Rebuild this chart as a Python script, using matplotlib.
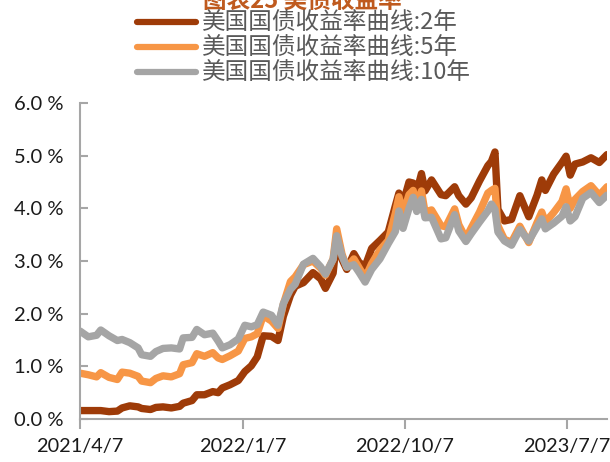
import matplotlib
matplotlib.use("Agg")
import matplotlib.pyplot as plt
import numpy as np

plt.rcParams['font.family'] = ['Lato', 'Noto Sans CJK SC', 'DejaVu Sans']

# dates of the sampled points
dates = ["2021-04-07", "2021-04-21", "2021-05-05", "2021-05-12", "2021-05-26",
         "2021-06-09", "2021-06-17", "2021-06-30", "2021-07-14", "2021-07-20",
         "2021-08-04", "2021-08-13", "2021-08-25", "2021-09-08", "2021-09-22",
         "2021-09-28", "2021-10-13", "2021-10-21", "2021-11-03", "2021-11-17",
         "2021-11-26", "2021-12-03", "2021-12-16", "2021-12-30", "2022-01-10",
         "2022-01-21", "2022-01-31", "2022-02-10", "2022-02-24", "2022-03-07",
         "2022-03-16", "2022-03-28", "2022-04-05", "2022-04-19", "2022-05-05",
         "2022-05-18", "2022-05-26", "2022-06-08", "2022-06-14", "2022-06-23",
         "2022-07-01", "2022-07-13", "2022-07-22", "2022-08-01", "2022-08-12",
         "2022-08-26", "2022-09-09", "2022-09-21", "2022-09-27", "2022-10-04",
         "2022-10-14", "2022-10-21", "2022-10-27", "2022-11-04", "2022-11-10",
         "2022-11-21", "2022-12-07", "2022-12-15", "2022-12-30", "2023-01-06",
         "2023-01-18", "2023-01-27", "2023-02-10", "2023-02-24", "2023-03-02",
         "2023-03-08", "2023-03-13", "2023-03-24", "2023-04-05", "2023-04-19",
         "2023-05-04", "2023-05-18", "2023-05-26", "2023-06-01", "2023-06-15",
         "2023-06-29", "2023-07-06", "2023-07-13", "2023-07-21", "2023-08-03",
         "2023-08-17", "2023-08-31", "2023-09-13"]

y2 = [0.16, 0.16, 0.16, 0.16, 0.14, 0.15, 0.21, 0.25, 0.23, 0.20,
      0.18, 0.22, 0.23, 0.21, 0.24, 0.30, 0.35, 0.46, 0.46, 0.52,
      0.50, 0.59, 0.65, 0.73, 0.90, 1.01, 1.18, 1.58, 1.57, 1.49,
      1.95, 2.35, 2.52, 2.59, 2.78, 2.66, 2.48, 2.77, 3.43, 3.03,
      2.84, 3.14, 2.97, 2.90, 3.24, 3.39, 3.55, 4.05, 4.29, 4.10,
      4.50, 4.48, 4.31, 4.66, 4.33, 4.54, 4.26, 4.24, 4.41, 4.24,
      4.08, 4.20, 4.52, 4.81, 4.89, 5.07, 3.98, 3.76, 3.79, 4.24,
      3.84, 4.25, 4.54, 4.34, 4.65, 4.87, 4.99, 4.63, 4.84, 4.88,
      4.96, 4.87, 5.02]

y5 = [0.87, 0.84, 0.80, 0.88, 0.79, 0.75, 0.89, 0.87, 0.81, 0.72,
      0.69, 0.77, 0.82, 0.80, 0.86, 1.03, 1.07, 1.24, 1.19, 1.26,
      1.16, 1.13, 1.20, 1.29, 1.53, 1.56, 1.62, 1.96, 1.86, 1.72,
      2.18, 2.61, 2.70, 2.93, 3.00, 2.86, 2.73, 3.04, 3.61, 3.13,
      2.88, 3.04, 2.87, 2.68, 2.95, 3.21, 3.39, 3.91, 4.22, 3.90,
      4.26, 4.34, 4.05, 4.33, 3.93, 3.97, 3.67, 3.65, 3.99, 3.69,
      3.43, 3.63, 3.93, 4.29, 4.34, 4.38, 3.67, 3.41, 3.36, 3.66,
      3.35, 3.73, 3.93, 3.74, 3.92, 4.13, 4.37, 4.00, 4.17, 4.32,
      4.43, 4.25, 4.41]

y10 = [1.67, 1.56, 1.59, 1.69, 1.58, 1.49, 1.51, 1.45, 1.35, 1.22,
       1.19, 1.28, 1.34, 1.35, 1.33, 1.54, 1.55, 1.70, 1.60, 1.63,
       1.48, 1.35, 1.41, 1.52, 1.78, 1.75, 1.79, 2.03, 1.97, 1.78,
       2.19, 2.46, 2.56, 2.94, 3.05, 2.89, 2.75, 3.03, 3.48, 3.09,
       2.88, 2.93, 2.78, 2.60, 2.84, 3.04, 3.33, 3.56, 3.95, 3.62,
       4.00, 4.21, 3.94, 4.17, 3.82, 3.83, 3.42, 3.44, 3.88, 3.57,
       3.37, 3.52, 3.74, 3.95, 4.08, 3.98, 3.55, 3.38, 3.30, 3.60,
       3.38, 3.65, 3.80, 3.61, 3.72, 3.85, 4.03, 3.76, 3.84, 4.19,
       4.30, 4.11, 4.25]

labels = ["美国国债收益率曲线:2年", "美国国债收益率曲线:5年", "美国国债收益率曲线:10年"]
colors = ["#9E3B08", "#F79646", "#A5A5A5"]
tick_dates = ["2021-04-07", "2022-01-07", "2022-10-07", "2023-07-07"]
tick_labels = ["2021/4/7", "2022/1/7", "2022/10/7", "2023/7/7"]
y_ticks = [0, 1, 2, 3, 4, 5, 6]

x = np.array(dates, dtype="datetime64[D]")

fig = plt.figure(figsize=(6.1, 4.62), dpi=100)
ax = fig.add_axes([80 / 610, 1 - 419 / 462, 527 / 610, 316 / 462])

for vals, c, lab in zip([y2, y5, y10], colors, labels):
    ax.plot(x, vals, color=c, lw=5.3, label=lab,
            solid_capstyle="round", solid_joinstyle="round")

ax.set_xlim(np.datetime64("2021-04-07"), np.datetime64("2023-09-13"))
ax.set_ylim(0, 6)
ax.set_xticks(np.array(tick_dates, dtype="datetime64[D]"))
ax.set_xticklabels(tick_labels)
ax.set_yticks(y_ticks)
ax.set_yticklabels(["%.1f %%" % v for v in y_ticks])

for s in ["top", "right"]:
    ax.spines[s].set_visible(False)
for s in ["left", "bottom"]:
    ax.spines[s].set_color("#A6A6A6")
    ax.spines[s].set_linewidth(1.5)
ax.tick_params(axis="y", direction="in", length=6, width=1.5, color="#A6A6A6",
               labelsize=14.5, pad=12, labelcolor="#1a1a1a")
ax.tick_params(axis="x", direction="out", length=7, width=1.5, color="#A6A6A6",
               labelsize=14.3, pad=7, labelcolor="#1a1a1a")

leg = fig.legend(loc="center", bbox_to_anchor=(0.498, 0.895), frameon=False,
                 prop={"family": ["Noto Sans CJK SC", "DejaVu Sans"], "size": 17},
                 handlelength=2.5, handletextpad=0.25, labelspacing=0.08,
                 borderpad=0.1)
for t in leg.get_texts():
    t.set_color("#595959")
for h in leg.get_lines():
    h.set_linewidth(4.5)

# title is clipped by the top edge in the reference image
fig.text(0.495, 1 - 8 / 462, "图表25 美债收益率", ha="center", va="baseline",
         fontsize=17, fontweight="bold", color="#BF5A1E",
         family=["Noto Sans CJK SC", "DejaVu Sans"])

fig.savefig("out.png", dpi=100)
